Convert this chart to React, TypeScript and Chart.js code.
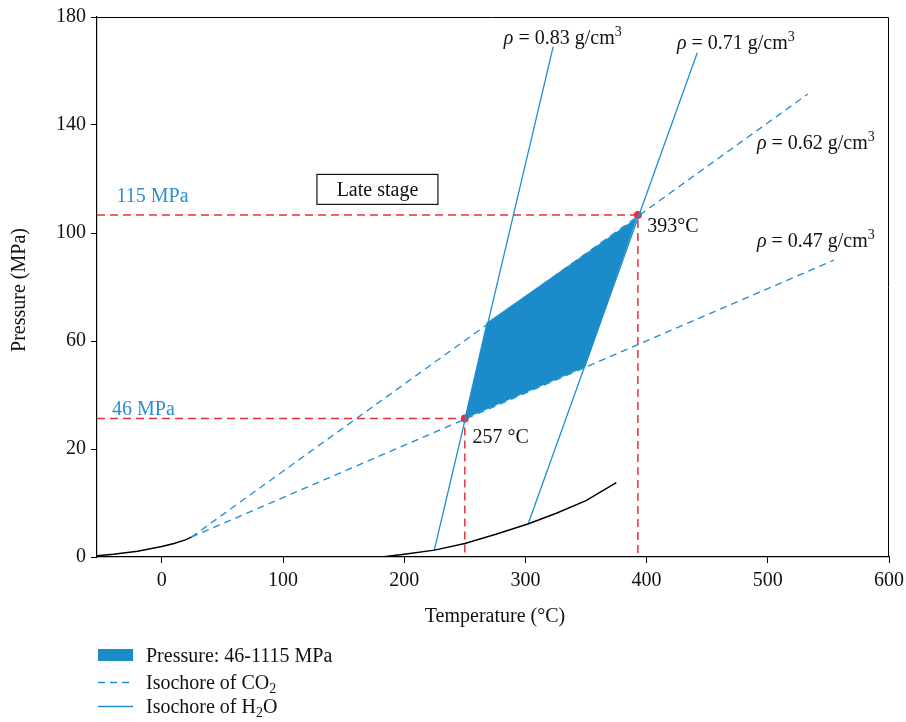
import React, { useEffect, useRef } from 'react';
import { Chart, registerables } from 'chart.js';

Chart.register(...registerables);

// ---------- axis ----------
const X_MIN = -53.5;
const X_MAX = 600;
const Y_MIN = 0;
const Y_MAX = 180;
const xTickValues = [0, 100, 200, 300, 400, 500, 600];
const yTickValues = [0, 36, 72, 108, 144, 180];
const yTickLabels = ['0', '20', '60', '100', '140', '180'];

// ---------- data (temperature °C, pressure MPa) ----------
const co2BoilingT = [-53.5, -40, -20, 0, 10, 20, 24.3];
const co2BoilingP = [0.4, 0.9, 1.9, 3.5, 4.5, 5.8, 6.6];
const h2oBoilingT = [181.5, 200, 225, 250, 275, 302, 325, 350, 375];
const h2oBoilingP = [0, 0.9, 2.3, 4.5, 7.5, 11, 14.5, 18.8, 24.8];
const co2Iso062T = [24.3, 532.9];
const co2Iso062P = [6.6, 154.3];
const co2Iso047T = [24.3, 554.6];
const co2Iso047P = [6.6, 99];
const h2oIso083T = [224.8, 322.9];
const h2oIso083P = [2.3, 170.1];
const h2oIso071T = [302.2, 441.8];
const h2oIso071P = [11, 168.1];
const fieldT = [250, 268, 391.9, 349.1, 250];
const fieldP = [46.2, 78, 113, 63.3, 46.2];
const highT = 392.8;
const highP = 114;
const lowT = 250;
const lowP = 46.2;

// ---------- annotations (anchor in data coords, left aligned, vertical center) ----------
type Seg = { t: string; italic?: boolean; sup?: boolean; sub?: boolean };
const densityLabels: { x: number; y: number; segs: Seg[] }[] = [
  { x: 282.2, y: 173.3, segs: [{ t: 'ρ', italic: true }, { t: ' = 0.83 g/cm' }, { t: '3', sup: true }] },
  { x: 425, y: 171.7, segs: [{ t: 'ρ', italic: true }, { t: ' = 0.71 g/cm' }, { t: '3', sup: true }] },
  { x: 491, y: 138.3, segs: [{ t: 'ρ', italic: true }, { t: ' = 0.62 g/cm' }, { t: '3', sup: true }] },
  { x: 491, y: 105.7, segs: [{ t: 'ρ', italic: true }, { t: ' = 0.47 g/cm' }, { t: '3', sup: true }] },
];
const tempLabels = [
  { x: 400.5, y: 110.7, text: '393°C' },
  { x: 256.4, y: 40.1, text: '257 °C' },
];
const pressLabels = [
  { x: -37.4, y: 120.7, text: '115 MPa' },
  { x: -41.1, y: 49.6, text: '46 MPa' },
];
const stageLabel = { x: 177.9, y: 122.7, text: 'Late stage' };

const legendLabels: Seg[][] = [
  [{ t: 'Pressure: 46-1115 MPa' }],
  [{ t: 'Isochore of CO' }, { t: '2', sub: true }],
  [{ t: 'Isochore of H' }, { t: '2', sub: true }, { t: 'O' }],
];

const xTitle = 'Temperature (°C)';
const yTitle = 'Pressure (MPa)';

// ---------- styles ----------
const FONT = '"Liberation Serif", "Times New Roman", serif';
const BLUE = '#1e8fd2';
const FILL = '#1c8bca';
const RED = '#e8303a';
const BLUE_TEXT = '#2a8fd0';

const pts = (xs: number[], ys: number[]) => xs.map((x, i) => ({ x, y: ys[i] }));

function drawRich(ctx: CanvasRenderingContext2D, segs: Seg[], x: number, yc: number, size: number, color: string, align: 'left' | 'center' = 'left') {
  const f = (s: Seg) => `${s.italic ? 'italic ' : ''}${s.sup || s.sub ? Math.round(size * 0.7) : size}px ${FONT}`;
  let total = 0;
  for (const s of segs) {
    ctx.font = f(s);
    total += ctx.measureText(s.t).width;
  }
  let cx = align === 'center' ? x - total / 2 : x;
  const base = yc + size * 0.33;
  ctx.fillStyle = color;
  ctx.textAlign = 'left';
  ctx.textBaseline = 'alphabetic';
  for (const s of segs) {
    ctx.font = f(s);
    const dy = s.sup ? -size * 0.38 : s.sub ? size * 0.22 : 0;
    ctx.fillText(s.t, cx, base + dy);
    cx += ctx.measureText(s.t).width;
  }
}

const overlay = {
  id: 'overlay',
  afterDraw(chart: any) {
    const { ctx, chartArea, scales } = chart;
    const xs = scales.x;
    const ys = scales.y;
    ctx.save();
    // frame top/right
    ctx.strokeStyle = '#000';
    ctx.lineWidth = 1;
    ctx.beginPath();
    ctx.moveTo(chartArea.left, chartArea.top + 0.5);
    ctx.lineTo(chartArea.right - 0.5, chartArea.top + 0.5);
    ctx.lineTo(chartArea.right - 0.5, chartArea.bottom);
    ctx.stroke();

    const px = (v: number) => xs.getPixelForValue(v);
    const py = (v: number) => ys.getPixelForValue(v);

    for (const l of densityLabels) drawRich(ctx, l.segs, px(l.x), py(l.y), 20, '#111');
    for (const l of tempLabels) drawRich(ctx, [{ t: l.text }], px(l.x), py(l.y), 20, '#111');
    for (const l of pressLabels) drawRich(ctx, [{ t: l.text }], px(l.x), py(l.y), 20, BLUE_TEXT);

    // late stage box
    const bx = px(stageLabel.x);
    const by = py(stageLabel.y);
    ctx.fillStyle = '#fff';
    ctx.fillRect(bx - 60.5, by - 14.5, 121, 30);
    ctx.strokeStyle = '#111';
    ctx.lineWidth = 1.2;
    ctx.strokeRect(bx - 60.5, by - 14.5, 121, 30);
    drawRich(ctx, [{ t: stageLabel.text }], bx, by, 20, '#111', 'center');

    // axis titles
    drawRich(ctx, [{ t: xTitle }], (chartArea.left + chartArea.right) / 2 + 2, chartArea.bottom + 58, 20, '#111', 'center');
    ctx.save();
    ctx.translate(18, (chartArea.top + chartArea.bottom) / 2 + 3);
    ctx.rotate(-Math.PI / 2);
    drawRich(ctx, [{ t: yTitle }], 0, 0, 20, '#111', 'center');
    ctx.restore();

    // legend
    const lx = chartArea.left + 1;
    const rows = [chartArea.bottom + 98, chartArea.bottom + 125, chartArea.bottom + 149];
    ctx.fillStyle = FILL;
    ctx.fillRect(lx, rows[0] - 6, 35, 12);
    ctx.strokeStyle = BLUE;
    ctx.lineWidth = 1.3;
    ctx.setLineDash([7, 5]);
    ctx.beginPath();
    ctx.moveTo(lx, rows[1] + 0.5);
    ctx.lineTo(lx + 35, rows[1] + 0.5);
    ctx.stroke();
    ctx.setLineDash([]);
    ctx.beginPath();
    ctx.moveTo(lx, rows[2] + 0.5);
    ctx.lineTo(lx + 35, rows[2] + 0.5);
    ctx.stroke();
    legendLabels.forEach((segs, i) => drawRich(ctx, segs, lx + 48, rows[i], 20, '#111'));
    ctx.restore();
  },
};

export default function App() {
  const ref = useRef<HTMLCanvasElement | null>(null);
  useEffect(() => {
    if (!ref.current) return;
    const lineDs = (data: any[], color: string, width: number, dash: number[] = []) => ({
      data,
      showLine: true,
      borderColor: color,
      backgroundColor: color,
      borderWidth: width,
      borderDash: dash,
      pointRadius: 0,
      fill: false,
      tension: 0,
    });
    const chart = new Chart(ref.current, {
      type: 'scatter',
      data: {
        datasets: [
          {
            data: pts(fieldT, fieldP),
            showLine: true,
            fill: 'shape',
            backgroundColor: FILL,
            borderColor: FILL,
            borderWidth: 0.5,
            pointRadius: 0,
          } as any,
          lineDs(pts(co2BoilingT, co2BoilingP), '#000', 1.4),
          lineDs(pts(h2oBoilingT, h2oBoilingP), '#000', 1.4),
          lineDs(pts(co2Iso062T, co2Iso062P), BLUE, 1.3, [7, 5]),
          lineDs(pts(co2Iso047T, co2Iso047P), BLUE, 1.3, [7, 5]),
          lineDs(pts(h2oIso083T, h2oIso083P), BLUE, 1.3),
          lineDs(pts(h2oIso071T, h2oIso071P), BLUE, 1.3),
          lineDs([{ x: X_MIN, y: highP }, { x: highT, y: highP }, { x: highT, y: Y_MIN }], RED, 1.5, [8, 5]),
          lineDs([{ x: X_MIN, y: lowP }, { x: lowT, y: lowP }, { x: lowT, y: Y_MIN }], RED, 1.5, [8, 5]),
          {
            data: [{ x: highT, y: highP }, { x: lowT, y: lowP }],
            pointRadius: 4,
            pointBackgroundColor: RED,
            pointBorderColor: RED,
            pointBorderWidth: 0,
            showLine: false,
          },
        ],
      },
      options: {
        responsive: false,
        animation: false,
        devicePixelRatio: 1,
        layout: { padding: { left: 0, right: 17, top: 17, bottom: 0 } },
        plugins: { legend: { display: false }, tooltip: { enabled: false } },
        scales: {
          x: {
            type: 'linear',
            min: X_MIN,
            max: X_MAX,
            afterBuildTicks: (s: any) => {
              s.ticks = xTickValues.map((v) => ({ value: v }));
            },
            afterFit: (s: any) => {
              s.height = 165;
              s.paddingLeft = 0;
              s.paddingRight = 0;
            },
            grid: { drawOnChartArea: false, drawTicks: true, tickLength: 6, color: '#000', lineWidth: 1 },
            border: { display: true, color: '#000', width: 1.2 },
            ticks: { color: '#111', font: { family: FONT, size: 20 }, padding: 6, maxRotation: 0 },
          },
          y: {
            type: 'linear',
            min: Y_MIN,
            max: Y_MAX,
            afterBuildTicks: (s: any) => {
              s.ticks = yTickValues.map((v) => ({ value: v }));
            },
            afterFit: (s: any) => {
              s.width = 97;
              s.paddingTop = 0;
              s.paddingBottom = 0;
            },
            grid: { drawOnChartArea: false, drawTicks: true, tickLength: 6, color: '#000', lineWidth: 1 },
            border: { display: true, color: '#000', width: 1.2 },
            ticks: {
              color: '#111',
              font: { family: FONT, size: 20 },
              padding: 5,
              callback: (_v: any, i: number) => yTickLabels[i],
            },
          },
        },
      } as any,
      plugins: [overlay],
    });
    return () => chart.destroy();
  }, []);
  return (
    <div style={{ position: 'absolute', left: 0, top: 0, width: 906, height: 722, background: '#fff' }}>
      <canvas ref={ref} width={906} height={722} style={{ width: 906, height: 722 }} />
    </div>
  );
}
